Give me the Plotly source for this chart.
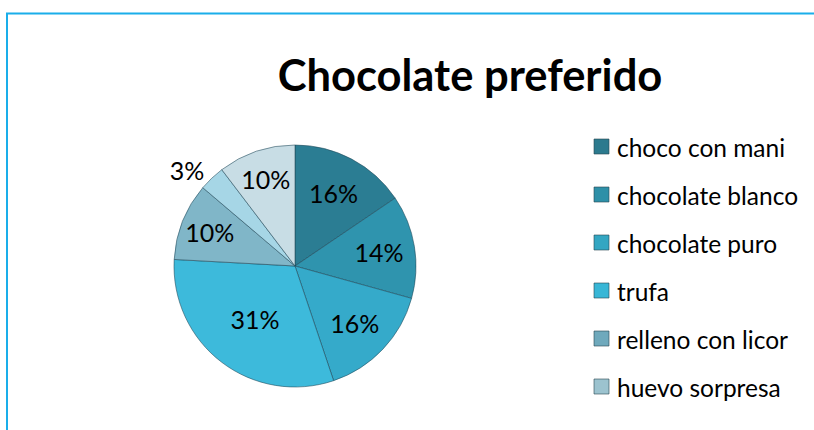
import plotly.graph_objects as go

# Data (counts; percentages computed by Plotly)
slice_labels = ["choco con mani", "chocolate blanco", "chocolate puro", "trufa",
                "relleno con licor", "huevo sorpresa", "otro"]
slice_values = [9, 8, 9, 18, 6, 2, 6]
legend_labels = ["choco con mani", "chocolate blanco", "chocolate puro", "trufa",
                 "relleno con licor", "huevo sorpresa"]
title_text = "Chocolate preferido"

slice_colors = ["#2B7D93", "#2F94AE", "#35AACA", "#3DBADB", "#80B6C8", "#A6D6E6", "#C8DDE5"]
legend_colors = ["#2C7A8E", "#2E90A8", "#33A6C2", "#38B6D6", "#6FA9BC", "#9CC3CF"]
text_pos = ["inside", "inside", "inside", "inside", "inside", "outside", "inside"]

W, H = 814, 430
cx, cy, r = 295, 266, 121

fig = go.Figure()
fig.add_trace(go.Pie(
    labels=slice_labels,
    values=slice_values,
    sort=False,
    direction="clockwise",
    rotation=0,
    marker=dict(colors=slice_colors, line=dict(color="rgba(30,70,85,0.55)", width=1)),
    texttemplate="%{percent:.0%}",
    textposition=text_pos,
    insidetextorientation="horizontal",
    textfont=dict(family="Lato", size=25, color="#000000"),
    showlegend=False,
    hoverinfo="label+value+percent",
    domain=dict(x=[(cx - r) / W, (cx + r) / W], y=[(H - cy - r) / H, (H - cy + r) / H]),
))

shapes = []
annotations = []
# chart border (cropped Excel chart area)
shapes.append(dict(type="rect", xref="paper", yref="paper",
                   x0=7 / W, x1=1.05, y0=-0.05, y1=(H - 13.5) / H,
                   line=dict(color="#1AAEEA", width=2), fillcolor="rgba(0,0,0,0)"))

# manual legend
y0 = 147
dy = 48
for i, (lab, col) in enumerate(zip(legend_labels, legend_colors)):
    yc = y0 + i * dy
    shapes.append(dict(type="rect", xref="paper", yref="paper",
                       x0=594 / W, x1=609 / W,
                       y0=(H - yc - 7) / H, y1=(H - yc + 8) / H,
                       fillcolor=col, line=dict(color="rgba(40,70,80,0.6)", width=1)))
    annotations.append(dict(x=615 / W, y=(H - yc) / H, xref="paper", yref="paper",
                            text=lab, showarrow=False, xanchor="left", yanchor="middle",
                            font=dict(family="Lato", size=24.5, color="#000000")))

fig.update_layout(
    width=W, height=H,
    margin=dict(l=0, r=0, t=0, b=0),
    paper_bgcolor="white",
    plot_bgcolor="white",
    title=dict(text="<b>" + title_text + "</b>", x=470 / W, xanchor="center",
               y=(H - 76) / H, yanchor="middle",
               font=dict(family="Lato", size=43.5, color="#000000")),
    shapes=shapes,
    annotations=annotations,
)

fig.write_html("out.html")
